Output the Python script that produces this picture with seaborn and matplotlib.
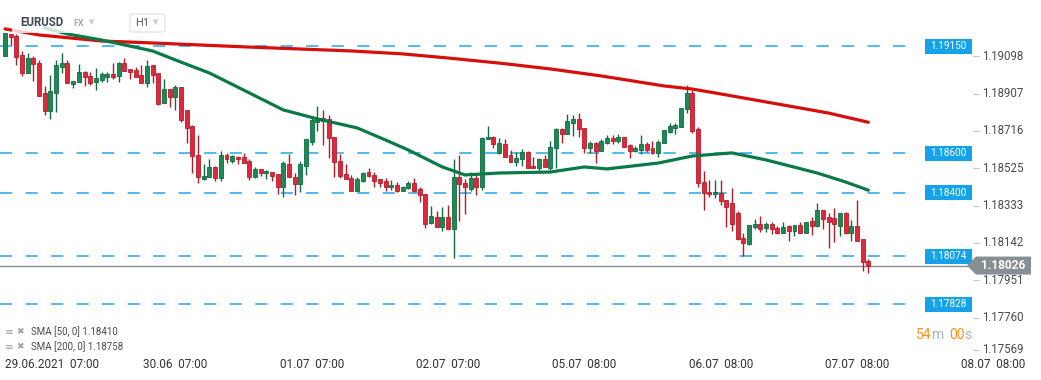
import matplotlib
matplotlib.use("Agg")
from matplotlib import pyplot as plt
from matplotlib.patches import Rectangle, Polygon, FancyBboxPatch
import matplotlib.transforms as mtransforms
import numpy as np
import pandas as pd
import seaborn as sns

# hourly EURUSD candles, 29.06 - 07.07.2021
opens = [1.19099, 1.19212, 1.19202, 1.19104, 1.19012, 1.19089, 1.19063, 1.18910, 1.18818, 1.18910,
         1.19043, 1.19063, 1.18956, 1.18966, 1.19017, 1.18997, 1.18966, 1.18976, 1.18992, 1.19007,
         1.18997, 1.19063, 1.19033, 1.19028, 1.19002, 1.18961, 1.19053, 1.19012, 1.18859, 1.18930,
         1.18889, 1.18941, 1.18823, 1.18741, 1.18592, 1.18469, 1.18480, 1.18531, 1.18474, 1.18592,
         1.18562, 1.18582, 1.18582, 1.18562, 1.18480, 1.18521, 1.18500, 1.18505, 1.18495, 1.18428,
         1.18546, 1.18480, 1.18444, 1.18536, 1.18659, 1.18761, 1.18782, 1.18777, 1.18684, 1.18562,
         1.18495, 1.18474, 1.18408, 1.18459, 1.18505, 1.18490, 1.18469, 1.18459, 1.18428, 1.18439,
         1.18408, 1.18423, 1.18449, 1.18418, 1.18393, 1.18244, 1.18275, 1.18224, 1.18275, 1.18214,
         1.18480, 1.18449, 1.18418, 1.18474, 1.18428, 1.18674, 1.18684, 1.18603, 1.18649, 1.18592,
         1.18557, 1.18572, 1.18608, 1.18536, 1.18526, 1.18572, 1.18526, 1.18628, 1.18726, 1.18700,
         1.18756, 1.18777, 1.18731, 1.18628, 1.18654, 1.18613, 1.18654, 1.18679, 1.18664, 1.18684,
         1.18644, 1.18613, 1.18618, 1.18649, 1.18628, 1.18603, 1.18654, 1.18710, 1.18731, 1.18736,
         1.18828, 1.18910, 1.18726, 1.18454, 1.18403, 1.18393, 1.18398, 1.18362, 1.18347, 1.18295,
         1.18168, 1.18137, 1.18224, 1.18239, 1.18219, 1.18239, 1.18219, 1.18193, 1.18229, 1.18204,
         1.18234, 1.18193, 1.18255, 1.18229, 1.18311, 1.18275, 1.18270, 1.18229, 1.18295, 1.18193,
         1.18229, 1.18163, 1.18050]
highs = [1.19217, 1.19212, 1.19212, 1.19125, 1.19115, 1.19099, 1.19079, 1.18946, 1.19002, 1.19079,
         1.19115, 1.19079, 1.18971, 1.19058, 1.19022, 1.19017, 1.19038, 1.19017, 1.19017, 1.19063,
         1.19069, 1.19089, 1.19033, 1.19043, 1.19053, 1.19079, 1.19053, 1.19012, 1.18981, 1.18930,
         1.18951, 1.18941, 1.18823, 1.18746, 1.18695, 1.18546, 1.18572, 1.18536, 1.18613, 1.18603,
         1.18592, 1.18587, 1.18603, 1.18572, 1.18531, 1.18521, 1.18516, 1.18505, 1.18495, 1.18562,
         1.18597, 1.18500, 1.18562, 1.18674, 1.18782, 1.18843, 1.18823, 1.18797, 1.18684, 1.18597,
         1.18546, 1.18490, 1.18480, 1.18505, 1.18526, 1.18505, 1.18469, 1.18474, 1.18464, 1.18454,
         1.18433, 1.18459, 1.18474, 1.18428, 1.18393, 1.18331, 1.18306, 1.18326, 1.18336, 1.18572,
         1.18592, 1.18469, 1.18505, 1.18500, 1.18684, 1.18741, 1.18690, 1.18679, 1.18674, 1.18618,
         1.18608, 1.18623, 1.18613, 1.18582, 1.18577, 1.18592, 1.18664, 1.18731, 1.18731, 1.18802,
         1.18797, 1.18807, 1.18731, 1.18664, 1.18659, 1.18674, 1.18695, 1.18695, 1.18700, 1.18684,
         1.18649, 1.18638, 1.18695, 1.18659, 1.18664, 1.18669, 1.18720, 1.18756, 1.18756, 1.18833,
         1.18951, 1.18925, 1.18736, 1.18510, 1.18464, 1.18464, 1.18464, 1.18362, 1.18423, 1.18306,
         1.18193, 1.18234, 1.18265, 1.18280, 1.18250, 1.18250, 1.18229, 1.18250, 1.18234, 1.18234,
         1.18250, 1.18250, 1.18275, 1.18347, 1.18311, 1.18295, 1.18321, 1.18295, 1.18301, 1.18260,
         1.18362, 1.18163, 1.18061]
lows = [1.19099, 1.19156, 1.19053, 1.18997, 1.19012, 1.18971, 1.18894, 1.18797, 1.18777, 1.18813,
        1.19012, 1.18961, 1.18935, 1.18966, 1.18946, 1.18951, 1.18925, 1.18966, 1.18966, 1.18981,
        1.18966, 1.19022, 1.18981, 1.18992, 1.18961, 1.18941, 1.18961, 1.18848, 1.18859, 1.18838,
        1.18823, 1.18761, 1.18654, 1.18500, 1.18449, 1.18464, 1.18480, 1.18459, 1.18459, 1.18551,
        1.18551, 1.18546, 1.18551, 1.18464, 1.18474, 1.18485, 1.18469, 1.18459, 1.18393, 1.18377,
        1.18480, 1.18388, 1.18403, 1.18490, 1.18644, 1.18715, 1.18644, 1.18577, 1.18480, 1.18474,
        1.18469, 1.18408, 1.18408, 1.18454, 1.18480, 1.18428, 1.18428, 1.18408, 1.18413, 1.18403,
        1.18408, 1.18418, 1.18403, 1.18352, 1.18219, 1.18239, 1.18224, 1.18204, 1.18214, 1.18066,
        1.18255, 1.18290, 1.18408, 1.18388, 1.18413, 1.18674, 1.18628, 1.18597, 1.18582, 1.18557,
        1.18536, 1.18536, 1.18526, 1.18526, 1.18510, 1.18531, 1.18516, 1.18526, 1.18654, 1.18700,
        1.18690, 1.18684, 1.18603, 1.18603, 1.18551, 1.18613, 1.18649, 1.18649, 1.18654, 1.18633,
        1.18577, 1.18608, 1.18597, 1.18608, 1.18597, 1.18582, 1.18654, 1.18705, 1.18700, 1.18736,
        1.18807, 1.18705, 1.18428, 1.18311, 1.18377, 1.18372, 1.18336, 1.18224, 1.18204, 1.18158,
        1.18076, 1.18132, 1.18214, 1.18199, 1.18199, 1.18188, 1.18188, 1.18193, 1.18153, 1.18178,
        1.18193, 1.18193, 1.18183, 1.18224, 1.18214, 1.18117, 1.18148, 1.18178, 1.18188, 1.18153,
        1.18153, 1.17999, 1.17989]
closes = [1.19217, 1.19197, 1.19094, 1.19012, 1.19089, 1.19058, 1.18894, 1.18818, 1.18920, 1.19053,
          1.19063, 1.18961, 1.18971, 1.19017, 1.18992, 1.18961, 1.18987, 1.19007, 1.19007, 1.18992,
          1.19063, 1.19022, 1.19017, 1.18992, 1.18961, 1.19048, 1.19002, 1.18854, 1.18930, 1.18889,
          1.18941, 1.18772, 1.18731, 1.18587, 1.18480, 1.18485, 1.18531, 1.18474, 1.18592, 1.18572,
          1.18587, 1.18572, 1.18551, 1.18480, 1.18521, 1.18500, 1.18510, 1.18485, 1.18428, 1.18551,
          1.18480, 1.18444, 1.18546, 1.18674, 1.18772, 1.18782, 1.18767, 1.18679, 1.18557, 1.18485,
          1.18469, 1.18408, 1.18469, 1.18500, 1.18485, 1.18459, 1.18449, 1.18428, 1.18439, 1.18408,
          1.18428, 1.18449, 1.18408, 1.18388, 1.18239, 1.18280, 1.18224, 1.18275, 1.18214, 1.18480,
          1.18444, 1.18428, 1.18474, 1.18428, 1.18679, 1.18684, 1.18649, 1.18654, 1.18582, 1.18557,
          1.18577, 1.18608, 1.18526, 1.18526, 1.18572, 1.18531, 1.18633, 1.18726, 1.18700, 1.18767,
          1.18777, 1.18726, 1.18628, 1.18654, 1.18613, 1.18664, 1.18679, 1.18664, 1.18684, 1.18633,
          1.18613, 1.18628, 1.18649, 1.18618, 1.18603, 1.18659, 1.18720, 1.18741, 1.18746, 1.18833,
          1.18910, 1.18715, 1.18449, 1.18398, 1.18393, 1.18403, 1.18357, 1.18326, 1.18239, 1.18163,
          1.18142, 1.18234, 1.18239, 1.18214, 1.18239, 1.18214, 1.18193, 1.18224, 1.18204, 1.18234,
          1.18193, 1.18250, 1.18229, 1.18311, 1.18265, 1.18250, 1.18239, 1.18295, 1.18193, 1.18229,
          1.18153, 1.18045, 1.18026]

# moving averages (candle index, value)
sma50_idx = [7, 11, 17, 26, 30, 36, 42, 49, 55, 62, 67, 71, 77, 81, 87, 96, 102, 106, 115, 121, 128, 134, 143, 148, 152]
sma50 = [1.19243, 1.19212, 1.19181, 1.19125, 1.19079, 1.19012, 1.18925, 1.18823, 1.18777, 1.18731, 1.18669, 1.18618,
         1.18531, 1.18490, 1.18500, 1.18505, 1.18531, 1.18521, 1.18551, 1.18587, 1.18603, 1.18567, 1.18500, 1.18454, 1.18412]
sma200_idx = [0, 6, 17, 26, 34, 43, 52, 61, 70, 78, 87, 96, 105, 116, 121, 126, 133, 140, 145, 152]
sma200 = [1.19238, 1.19207, 1.19176, 1.19166, 1.19156, 1.19145, 1.19135, 1.19125, 1.19110, 1.19089, 1.19063, 1.19033,
          1.18997, 1.18946, 1.18930, 1.18905, 1.18869, 1.18833, 1.18807, 1.18760]

levels = [1.19150, 1.18600, 1.18400, 1.18074, 1.17828]
last_price = 1.18026
price_ticks = [1.19098, 1.18907, 1.18716, 1.18525, 1.18333, 1.18142, 1.17951, 1.17760, 1.17569]
date_ticks = [30, 54, 78, 102, 126, 150, 174]
date_labels = ["30.06  07:00", "01.07  07:00", "02.07  07:00", "05.07  08:00",
               "06.07  08:00", "07.07  08:00", "08.07  08:00"]
first_label = "29.06.2021  07:00"

sns.set_style("white")
plt.rcParams['font.family'] = ['Roboto', 'DejaVu Sans']

W, H = 1041, 380
fig = plt.figure(figsize=(W / 100, H / 100), dpi=100)
ax = fig.add_axes([0, 25 / H, 1, 355 / H])
ax.set_xlim(-0.88, 182.4)
ax.set_ylim(1.17568, 1.19386)
px = (1.19386 - 1.17568) / 355  # price per pixel

df = pd.DataFrame({"open": opens, "high": highs, "low": lows, "close": closes})
df["idx"] = np.arange(len(df))
up = df["close"] >= df["open"]
fill = np.where(up, "#1d8a55", "#e1283a")
edge = np.where(up, "#0e6b3f", "#b31d2b")

# wicks + bodies
ax.vlines(df["idx"], df["low"], df["high"], colors=edge, linewidth=1.0, zorder=3)
body = (df["close"] - df["open"]).abs().clip(lower=1.5 * px)
bottom = df[["open", "close"]].min(axis=1)
ax.bar(df["idx"], body, bottom=bottom, width=0.7, color=fill, edgecolor=edge, linewidth=0.6, zorder=4)

# SMAs
sns.lineplot(x=sma200_idx, y=sma200, ax=ax, color="#d50f0c", linewidth=2.3, zorder=5)
sns.lineplot(x=sma50_idx, y=sma50, ax=ax, color="#0a7a48", linewidth=2.3, zorder=5)

trans = mtransforms.blended_transform_factory(ax.transAxes, ax.transData)

# horizontal levels with blue boxes
for lv in levels:
    ax.axhline(lv, xmin=0, xmax=918 / W, color="#22a6ec", linewidth=1.1, dashes=(8.0, 8.7), zorder=2)
    ax.add_patch(Rectangle((925 / W, lv - 7.5 * px), 47 / W, 15 * px, transform=trans,
                           facecolor="#14a3eb", edgecolor="none", clip_on=False, zorder=6))
    ax.text(948.5 / W, lv, f"{lv:.5f}", transform=trans, ha="center", va="center",
            fontsize=7.2, color="white", zorder=7)

# last price line and marker
ax.axhline(last_price, xmin=0, xmax=972 / W, color="#868e93", linewidth=1.0, zorder=2)
pts = [(967 / W, last_price), (976 / W, last_price + 9 * px), (1031 / W, last_price + 9 * px),
       (1031 / W, last_price - 9 * px), (976 / W, last_price - 9 * px)]
ax.add_patch(Polygon(pts, closed=True, transform=trans, facecolor="#878f94", edgecolor="none",
                     clip_on=False, zorder=8))
ax.text(1003 / W, last_price, f"{last_price:.5f}", transform=trans, ha="center", va="center",
        fontsize=8.6, color="white", fontweight="bold", zorder=9)

# price scale on the right (lowest label is pushed up to stay clear of the dates)
for p in price_ticks:
    ylab = p + 5 * px if p == price_ticks[-1] else p
    ax.plot([973 / W, 979 / W], [ylab, ylab], transform=trans, color="#c4c8cb", linewidth=0.8, clip_on=False)
    ax.text(982 / W, ylab, f"{p:.5f}", transform=trans, ha="left", va="center", fontsize=8.3,
            color="#4a4a4a", zorder=7)

# time axis
ax.set_xticks(date_ticks, date_labels)
ax.tick_params(axis="x", length=0, pad=2.5, labelsize=8.5, labelcolor="#333333")
ax.set_yticks([])
tx = mtransforms.blended_transform_factory(ax.transData, ax.transAxes)
ax.text(0, -0.026, first_label, transform=tx, ha="left", va="center", fontsize=8.5, color="#333333")
sns.despine(ax=ax, left=True, bottom=True)

# header (semi transparent panel over the lines)
fig.add_artist(Rectangle((12 / W, 1 - 33 / H), 60 / W, 22 / H, transform=fig.transFigure,
                         facecolor="white", alpha=0.8, edgecolor="none", zorder=1))
fig.text(20 / W, 1 - 23 / H, "EURUSD", fontsize=8.3, fontweight="bold", color="#3d4852", va="center")
fig.text(73 / W, 1 - 23 / H, "FX", fontsize=6.5, fontweight="bold", color="#a3abb1", va="center")
fig.text(89 / W, 1 - 22 / H, "▼", fontsize=5, color="#c3c8cc", va="center", family="DejaVu Sans")
fig.add_artist(FancyBboxPatch((130 / W, 1 - 32 / H), 35 / W, 18 / H, transform=fig.transFigure,
                              boxstyle="round,pad=0,rounding_size=0.003", facecolor="white",
                              edgecolor="#dcdfe2", linewidth=0.8, zorder=1))
fig.text(135 / W, 1 - 23 / H, "H1", fontsize=8, color="#555d63", va="center")
fig.text(153 / W, 1 - 22 / H, "▼", fontsize=5, color="#c3c8cc", va="center", family="DejaVu Sans")

# SMA legend
for yy, lab in [(332, "SMA [50, 0] 1.18410"), (347, "SMA [200, 0] 1.18758")]:
    fig.text(5 / W, 1 - yy / H, "≡", fontsize=7.5, color="#9ba2a7", va="center", family="DejaVu Sans")
    fig.text(16 / W, 1 - yy / H, "✖", fontsize=6.5, color="#9ba2a7", va="center", family="DejaVu Sans")
    fig.text(31 / W, 1 - yy / H, lab, fontsize=7, color="#4a4a4a", va="center")

# countdown
for xx, s, col in [(916, "54", "#f7941d"), (932, "m", "#aeb4b8"), (949, "00", "#f7941d"), (964, "s", "#aeb4b8")]:
    fig.text(xx / W, 1 - 335 / H, s, fontsize=10, color=col, va="center")

plt.savefig("out.png", dpi=100)
